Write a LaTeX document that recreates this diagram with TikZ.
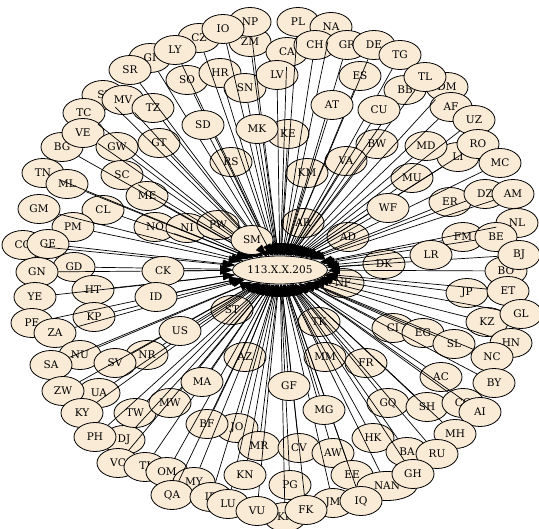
\documentclass[tikz,border=0pt]{standalone}
\usepackage{xcolor}
\usepackage{fontspec}
\setmainfont{DejaVu Serif}
\usepackage{tikz}
\usetikzlibrary{shapes.geometric, arrows.meta}
\definecolor{antique}{RGB}{250,235,215}

\begin{document}
\begin{tikzpicture}[
    x=1pt, y=-1pt,
    country/.style={
        draw, ellipse, fill=antique, line width=0.8pt, inner sep=1pt,
        minimum width=42pt, minimum height=29pt,
        font=\fontsize{10.5}{12}\selectfont
    },
    hub/.style={
        country, minimum width=95pt, minimum height=28pt
    },
    arr/.style={-{Triangle[length=12pt, width=8pt]}, line width=0.7pt, color=black}
]
\useasboundingbox (0,0) rectangle (539,529);

% Top
\node[country] (GI) at (150,58) {GI};
\node[country] (CZ) at (199,38) {CZ};
\node[country] (LY) at (175,50) {LY};
\node[country] (ZM) at (250,42) {ZM};
\node[country] (NP) at (250,22) {NP};
\node[country] (IO) at (223,29) {IO};
\node[country] (SR) at (130,70) {SR};
\node[country] (SO) at (187,80) {SO};
\node[country] (HR) at (220,73) {HR};
\node[country] (SN) at (245,88) {SN};
\node[country] (CA) at (287,52) {CA};
\node[country] (LV) at (277,75) {LV};
\node[country] (PL) at (298,22) {PL};
\node[country] (NA) at (331,27) {NA};
\node[country] (CH) at (315,45) {CH};
\node[country] (GR) at (347,45) {GR};
\node[country] (DE) at (374,45) {DE};
\node[country] (TG) at (400,55) {TG};
\node[country] (ES) at (360,76) {ES};
\node[country] (BB) at (405,90) {BB};
\node[country] (DM) at (447,87) {DM};
\node[country] (TL) at (425,77) {TL};
\node[country] (AF) at (451,107) {AF};
\node[country] (UZ) at (474,120) {UZ};

% Upper left
\node[country] (SI) at (103,95) {SI};
\node[country] (MV) at (123,100) {MV};
\node[country] (TZ) at (153,108) {TZ};
\node[country] (TC) at (84,113) {TC};
\node[country] (BG) at (62,147) {BG};
\node[country] (VE) at (83,133) {VE};
\node[country] (GW) at (117,147) {GW};
\node[country] (GT) at (159,143) {GT};
\node[country] (KE) at (288,134) {KE};
\node[country] (RS) at (231,162) {RS};
\node[country] (SC) at (122,175) {SC};
\node[country] (TN) at (43,173) {TN};
\node[country] (ML) at (67,184) {ML};

% Upper right
\node[country] (BW) at (377,144) {BW};
\node[country] (LI) at (458,157) {LI};
\node[country] (MD) at (426,146) {MD};
\node[country] (RO) at (478,144) {RO};
\node[country] (MC) at (500,163) {MC};
\node[country] (VA) at (346,161) {VA};
\node[country] (KM) at (307,173) {KM};
\node[country] (MU) at (412,178) {MU};
\node[country] (ER) at (450,202) {ER};
\node[country] (DZ) at (485,194) {DZ};
\node[country] (AM) at (513,194) {AM};
\node[country] (NL) at (517,223) {NL};

% Left middle
\node[country] (ME) at (147,196) {ME};
\node[country] (GM) at (39,209) {GM};
\node[country] (CL) at (103,210) {CL};
\node[country] (PM) at (73,227) {PM};
\node[country] (NO) at (155,227) {NO};
\node[country] (NI) at (187,228) {NI};
\node[country] (PW) at (218,225) {PW};
\node[country] (CO) at (23,245) {CO};
\node[country] (GE) at (48,244) {GE};
\node[country] (GD) at (74,267) {GD};
\node[country] (GN) at (37,272) {GN};
\node[country] (YE) at (35,297) {YE};
\node[country] (HT) at (93,290) {HT};
\node[country] (PE) at (32,323) {PE};
\node[country] (KP) at (94,317) {KP};
\node[country] (ZA) at (55,333) {ZA};
\node[country] (ST) at (232,310) {ST};

% Right middle
\node[country] (AR) at (303,223) {AR};
\node[country] (AD) at (348,237) {AD};
\node[country] (FM) at (463,237) {FM};
\node[country] (BE) at (496,237) {BE};
\node[country] (BO) at (506,271) {BO};
\node[country] (BJ) at (519,255) {BJ};
\node[country] (DK) at (384,264) {DK};
\node[country] (NF) at (343,283) {NF};
\node[country] (JP) at (467,293) {JP};
\node[country] (ET) at (508,291) {ET};
\node[country] (KZ) at (487,322) {KZ};
\node[country] (GL) at (521,314) {GL};
\node[country] (TK) at (319,322) {TK};
\node[country] (CI) at (393,328) {CI};
\node[country] (EG) at (423,333) {EG};
\node[country] (SL) at (454,344) {SL};
\node[country] (HN) at (511,343) {HN};
\node[country] (NC) at (492,357) {NC};
\node[country] (MM) at (325,357) {MM};
\node[country] (FR) at (366,363) {FR};

% Lower left
\node[country] (NU) at (80,355) {NU};
\node[country] (SA) at (51,365) {SA};
\node[country] (NR) at (147,355) {NR};
\node[country] (SV) at (115,363) {SV};
\node[country] (UA) at (99,393) {UA};
\node[country] (ZW) at (63,391) {ZW};
\node[country] (KY) at (82,413) {KY};
\node[country] (DJ) at (124,440) {DJ};
\node[country] (PH) at (95,437) {PH};
\node[country] (TW) at (135,413) {TW};
\node[country] (MW) at (170,403) {MW};
\node[country] (AZ) at (245,357) {AZ};
\node[country] (JO) at (237,428) {JO};
\node[country] (BF) at (207,424) {BF};
\node[country] (MR) at (259,446) {MR};
\node[country] (VC) at (118,463) {VC};
\node[country] (TJ) at (145,467) {TJ};
\node[country] (OM) at (167,472) {OM};
\node[country] (MY) at (194,482) {MY};
\node[country] (QA) at (172,495) {QA};
\node[country] (IR) at (211,497) {IR};
\node[country] (LU) at (228,504) {LU};
\node[country] (KR) at (285,517) {KR};
\node[country] (VU) at (257,511) {VU};

% Lower right
\node[country] (AC) at (441,377) {AC};
\node[country] (BY) at (494,383) {BY};
\node[country] (GQ) at (388,403) {GQ};
\node[country] (SH) at (427,407) {SH};
\node[country] (CG) at (463,403) {CG};
\node[country] (AI) at (480,412) {AI};
\node[country] (MH) at (455,434) {MH};
\node[country] (HK) at (373,438) {HK};
\node[country] (BA) at (407,452) {BA};
\node[country] (RU) at (437,454) {RU};
\node[country] (CV) at (299,448) {CV};
\node[country] (AW) at (333,453) {AW};
\node[country] (EE) at (352,475) {EE};
\node[country, minimum width=60pt] (NAN) at (387,486) {NAN};
\node[country] (GH) at (413,474) {GH};
\node[country] (PG) at (290,485) {PG};
\node[country] (JM) at (333,503) {JM};
\node[country] (IQ) at (361,501) {IQ};
\node[country] (FK) at (306,510) {FK};

% Host
\node[hub] (host) at (280,270) {113.X.X.205};

% Arrows
\foreach \c in {GI,CZ,LY,ZM,NP,IO,SR,SO,HR,SN,CA,LV,PL,NA,CH,GR,DE,TG,ES,BB,DM,TL,AF,UZ,
    SI,MV,TZ,TC,BG,VE,GW,GT,KE,RS,SC,TN,ML,
    BW,LI,MD,RO,MC,VA,KM,MU,ER,DZ,AM,NL,
    ME,GM,CL,PM,NO,NI,PW,CO,GE,GD,GN,YE,HT,PE,KP,ZA,ST,
    AR,AD,FM,BE,BO,BJ,DK,NF,JP,ET,KZ,GL,TK,CI,EG,SL,HN,NC,MM,FR,
    NU,SA,NR,SV,UA,ZW,KY,DJ,PH,TW,MW,AZ,JO,BF,MR,VC,TJ,OM,MY,QA,IR,LU,KR,VU,
    AC,BY,GQ,SH,CG,AI,MH,HK,BA,RU,CV,AW,EE,NAN,GH,PG,JM,IQ,FK}
    \draw[arr] (\c) -- (host);

% Nodes drawn over the arrows
\node[country] (SM) at (252,240) {SM};
\node[country] (CK) at (163,271) {CK};
\node[country] (ID) at (156,297) {ID};
\node[country] (US) at (180,331) {US};
\node[country] (SD) at (203,125) {SD};
\node[country] (MK) at (257,129) {MK};
\node[country] (AT) at (332,105) {AT};
\node[country] (CU) at (379,110) {CU};
\node[country] (WF) at (388,208) {WF};
\node[country] (LR) at (431,255) {LR};
\node[country] (MA) at (202,382) {MA};
\node[country] (GF) at (289,386) {GF};
\node[country] (MG) at (324,410) {MG};
\node[country] (KN) at (245,475) {KN};

\foreach \c in {SM,CK,ID,US,SD,MK,AT,CU,WF,LR,MA,GF,MG,KN}
    \draw[arr] (\c) -- (host);

\end{tikzpicture}
\end{document}
